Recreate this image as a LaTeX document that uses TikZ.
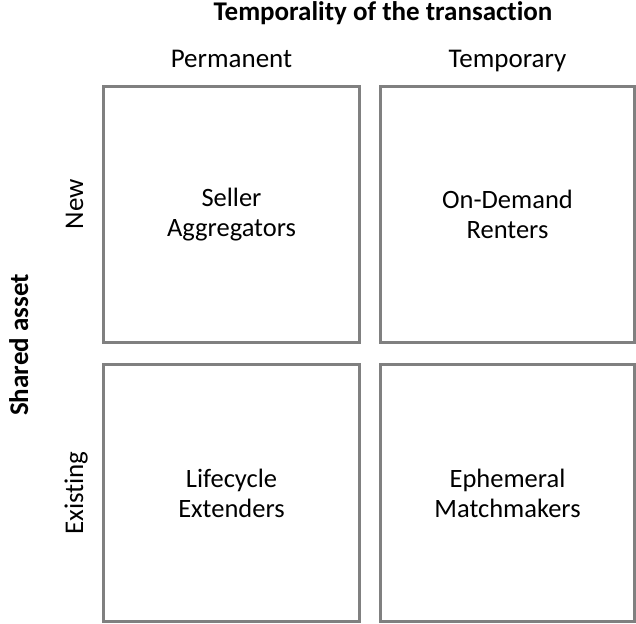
\documentclass[tikz,border=0pt]{standalone}
\usepackage{fontspec}
\setmainfont{Carlito}[Ligatures=NoCommon]
\usepackage{tikz}
\definecolor{framegray}{RGB}{128,128,128}

\begin{document}
\begin{tikzpicture}[x=1pt,y=1pt,
    quadrant/.style={draw=framegray,line width=2.5pt,align=center,
      minimum width=256pt,minimum height=256pt,inner sep=0pt,
      font=\fontsize{26.5}{30}\selectfont},
    axislabel/.style={font=\fontsize{27}{30}\selectfont,inner sep=0pt},
    axistitle/.style={font=\fontsize{27}{30}\selectfont\bfseries,inner sep=0pt}]
    \useasboundingbox (0,0) rectangle (636,-623);
    \node[quadrant] (seller) at (231.5,-214.5) {Seller\\Aggregators};
    \node[quadrant,minimum width=254pt] (renters) at (507.5,-214.5) {On-Demand\\Renters};
    \node[quadrant,minimum height=257pt] (lifecycle) at (231.5,-493) {Lifecycle\\Extenders};
    \node[quadrant,minimum width=254pt,minimum height=257pt] (ephemeral) at (507.5,-493) {Ephemeral\\Matchmakers};
    \node[axistitle,anchor=base] (temporality) at (383,-21) {Temporality of the transaction};
    \node[axislabel,anchor=base] (permanent) at (seller.north |- 0,-68) {Permanent};
    \node[axislabel,anchor=base] (temporary) at (renters.north |- 0,-68) {Temporary};
    \node[axistitle,anchor=base,rotate=90] (shared) at (28,-345) {Shared asset};
    \node[axislabel,anchor=base,rotate=90] (new) at (83,-204) {New};
    \node[axislabel,anchor=base,rotate=90] (existing) at (83,-493) {Existing};
  \end{tikzpicture}
\end{document}
